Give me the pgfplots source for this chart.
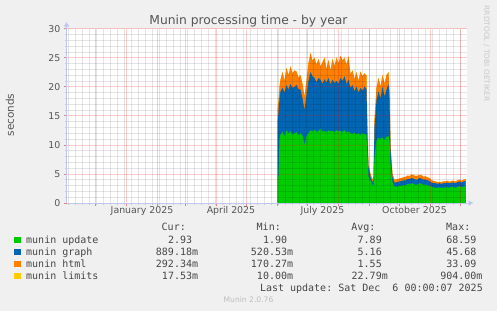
\documentclass[border=0pt]{standalone}
\usepackage{pgfplots}
\pgfplotsset{compat=1.18}
\usepackage{pgfplotstable}
\usepackage{fontspec}
\setmainfont{DejaVu Sans}
\setmonofont{DejaVu Sans Mono}
\usetikzlibrary{arrows.meta}
\definecolor{bg}{HTML}{F0F0F0}
\definecolor{cupd}{HTML}{00CC00}
\definecolor{cgra}{HTML}{0066B3}
\definecolor{chtm}{HTML}{FF8000}
\definecolor{clim}{HTML}{FFCC00}
\definecolor{mtick}{RGB}{225,130,130}
\definecolor{stick}{RGB}{200,200,200}
\definecolor{axc}{RGB}{190,200,240}
\definecolor{txt}{RGB}{85,85,85}
\definecolor{legt}{RGB}{70,70,70}

\pgfplotstableread{
day u Tg Th l
151 4.3 14.0 16.0 0.02
152 4.6 15.5 17.5 0.02
153 11.0 18.0 20.0 0.02
154 11.8 19.2 21.2 0.02
156 12.2 19.8 22.5 0.02
158 11.5 19.0 21.0 0.02
160 12.5 20.3 23.2 0.02
162 12.0 19.5 22.0 0.02
164 12.3 20.5 23.5 0.02
166 11.8 19.8 22.3 0.02
168 12.0 20.0 22.8 0.02
170 12.2 20.3 22.6 0.02
172 11.7 19.6 21.6 0.02
174 12.0 19.5 22.0 0.02
176 11.6 18.0 20.5 0.02
178 10.0 16.0 18.3 0.02
180 11.5 18.5 21.0 0.02
182 12.0 21.0 24.0 0.02
184 12.5 22.5 25.8 0.02
186 12.3 21.8 24.5 0.02
188 12.6 21.5 25.0 0.02
190 12.2 20.8 23.8 0.02
192 12.4 21.5 24.8 0.02
194 12.7 21.2 23.5 0.02
196 12.3 20.5 24.2 0.02
198 12.4 21.3 25.0 0.02
200 12.2 20.7 23.0 0.02
202 12.5 21.5 24.6 0.02
204 12.3 20.4 22.8 0.02
206 12.4 21.2 24.8 0.02
208 12.2 20.6 23.5 0.02
210 12.5 21.0 25.0 0.02
212 12.3 20.5 24.0 0.02
214 12.4 21.5 25.3 0.02
216 12.2 21.0 24.5 0.02
218 12.5 21.8 25.0 0.02
220 12.1 20.5 23.8 0.02
222 12.3 21.2 25.2 0.02
224 12.0 19.8 22.2 0.02
226 11.9 20.3 22.8 0.02
228 12.1 19.2 21.3 0.02
230 11.8 20.0 22.5 0.02
232 12.0 19.0 21.0 0.02
234 11.7 19.8 22.6 0.02
236 12.0 19.3 21.8 0.02
238 11.8 20.0 22.3 0.02
240 11.8 19.6 21.9 0.02
241 8.0 11.0 12.0 0.02
242 4.5 6.2 6.5 0.02
244 3.8 4.5 5.0 0.02
246 3.0 3.6 4.0 0.02
247 3.2 4.0 4.6 0.02
248 8.0 13.0 14.5 0.02
250 10.8 17.6 19.8 0.02
252 11.2 19.2 21.5 0.02
254 11.0 18.0 20.0 0.02
256 11.3 20.0 22.0 0.02
258 10.8 18.3 20.5 0.02
260 11.4 19.5 22.0 0.02
262 11.5 20.5 22.5 0.02
263 11.0 18.0 19.5 0.02
264 7.0 9.0 10.0 0.02
266 3.5 4.5 5.0 0.02
268 2.8 3.5 4.0 0.02
271 2.8 3.6 4.1 0.02
273 3.0 3.7 4.2 0.02
275 2.9 3.8 4.3 0.02
277 3.1 3.9 4.4 0.02
279 3.0 3.9 4.5 0.02
281 3.3 4.1 4.7 0.02
283 3.2 4.1 4.6 0.02
285 3.4 4.3 4.9 0.02
287 3.3 4.2 4.8 0.02
289 3.1 4.0 4.6 0.02
291 3.2 4.0 4.7 0.02
293 3.4 4.3 4.8 0.02
295 3.3 4.2 4.8 0.02
297 3.1 4.0 4.5 0.02
299 3.2 4.0 4.6 0.02
301 3.0 3.9 4.4 0.02
303 3.0 3.8 4.3 0.02
305 2.8 3.5 3.9 0.02
307 2.7 3.4 3.8 0.02
309 2.6 3.4 3.7 0.02
311 2.6 3.3 3.6 0.02
313 2.7 3.4 3.6 0.02
315 2.6 3.3 3.6 0.02
317 2.6 3.4 3.7 0.02
319 2.7 3.4 3.7 0.02
321 2.7 3.5 3.8 0.02
323 2.6 3.4 3.6 0.02
325 2.8 3.5 3.8 0.02
327 2.7 3.5 3.8 0.02
329 2.6 3.4 3.7 0.02
331 2.8 3.6 3.9 0.02
333 2.9 3.7 4.0 0.02
335 2.7 3.5 3.8 0.02
337 2.8 3.7 4.0 0.02
339 2.9 3.8 4.1 0.02
}\datatab

\begin{document}
\begin{tikzpicture}
\path[use as bounding box, fill=bg] (0,0) rectangle (497bp,311bp);
\begin{axis}[
  at={(66.5bp,108bp)}, anchor=south west,
  scale only axis, width=400bp, height=174.4bp,
  xmin=-60, xmax=340, ymin=0, ymax=30,
  axis background/.style={fill=white},
  axis on top,
  axis x line*=bottom, axis y line*=left,
  x axis line style={draw=axc, line width=0.8bp, -{Latex[length=5bp,width=6bp]}, shorten >=-7bp},
  y axis line style={draw=axc, line width=0.8bp, -{Latex[length=5bp,width=6bp]}, shorten >=-7bp},
  xtick={-31,0,31,59,90,120,151,181,212,243,273,304,334},
  xticklabels={},
  minor xtick={-58,-51,...,339},
  ytick={0,5,...,30},
  minor ytick={1,2,3,4,6,7,8,9,11,12,13,14,16,17,18,19,21,22,23,24,26,27,28,29},
  extra x ticks={15.5,104.5,196,288},
  extra x tick labels={January 2025,April 2025,July 2025,October 2025},
  extra x tick style={xmajorgrids=false, major tick length=0pt},
  xmajorgrids=true, xminorgrids=true, ymajorgrids=true, yminorgrids=true,
  major grid style={draw=red, draw opacity=0.2, line width=0.6bp, solid},
  minor grid style={draw=black, draw opacity=0.1, line width=0.5bp, solid},
  tick align=outside,
  major tick length=3bp, minor tick length=2bp,
  major tick style={draw=mtick, line width=0.7bp},
  minor tick style={draw=stick, line width=0.7bp},
  /pgf/number format/assume math mode=true,
  tick label style={font=\fontsize{9.4bp}{11bp}\selectfont, text=txt},
  xticklabel style={anchor=north, inner sep=0pt, yshift=-3bp},
  yticklabel style={anchor=east, inner sep=0pt, xshift=-3bp},
]
\addplot[fill=clim, draw=none] table[x=day, y expr=\thisrow{Th}+\thisrow{l}] {\datatab} \closedcycle;
\addplot[fill=chtm, draw=none] table[x=day, y=Th] {\datatab} \closedcycle;
\addplot[fill=cgra, draw=none] table[x=day, y=Tg] {\datatab} \closedcycle;
\addplot[fill=cupd, draw=none] table[x=day, y=u] {\datatab} \closedcycle;
\end{axis}

% titles
\node[anchor=base, text=txt, font=\fontsize{12.3bp}{14bp}\selectfont] at (248.5bp,286.5bp) {Munin processing time - by year};
\node[rotate=90, text=txt, font=\fontsize{10.5bp}{12bp}\selectfont] at (10bp,196bp) {seconds};
\node[rotate=-90, text={rgb,255:red,200;green,200;blue,200}, font=\fontsize{7.4bp}{9bp}\selectfont, inner sep=0pt] at (486.5bp,257.5bp) {RRDTOOL / TOBI OETIKER};
\node[anchor=base, text={rgb,255:red,190;green,190;blue,190}, font=\fontsize{7.6bp}{9bp}\selectfont] at (248.5bp,8.3bp) {Munin 2.0.76};

% legend
\begin{scope}[every node/.style={inner sep=0pt, text=legt, font=\ttfamily\fontsize{10bp}{12bp}\selectfont}]
\node[anchor=base east] at (186bp,80bp) {Cur:};
\node[anchor=base east] at (281bp,80bp) {Min:};
\node[anchor=base east] at (375.7bp,80bp) {Avg:};
\node[anchor=base east] at (470.5bp,80bp) {Max:};

\node[anchor=base west] at (14bp,67.7bp) {\textcolor{cupd}{\rule{6.5bp}{6.5bp}}};
\node[anchor=base west] at (14bp,55.8bp) {\textcolor{cgra}{\rule{6.5bp}{6.5bp}}};
\node[anchor=base west] at (14bp,43.9bp) {\textcolor{chtm}{\rule{6.5bp}{6.5bp}}};
\node[anchor=base west] at (14bp,32.0bp) {\textcolor{clim}{\rule{6.5bp}{6.5bp}}};

\node[anchor=base west] at (26bp,67.7bp) {munin update};
\node[anchor=base west] at (26bp,55.8bp) {munin graph};
\node[anchor=base west] at (26bp,43.9bp) {munin html};
\node[anchor=base west] at (26bp,32.0bp) {munin limits};

\node[anchor=base east] at (198.3bp,67.7bp) {2.93\phantom{m}};
\node[anchor=base east] at (198.3bp,55.8bp) {889.18m};
\node[anchor=base east] at (198.3bp,43.9bp) {292.34m};
\node[anchor=base east] at (198.3bp,32.0bp) {17.53m};

\node[anchor=base east] at (293.3bp,67.7bp) {1.90\phantom{m}};
\node[anchor=base east] at (293.3bp,55.8bp) {520.53m};
\node[anchor=base east] at (293.3bp,43.9bp) {170.27m};
\node[anchor=base east] at (293.3bp,32.0bp) {10.00m};

\node[anchor=base east] at (388bp,67.7bp) {7.89\phantom{m}};
\node[anchor=base east] at (388bp,55.8bp) {5.16\phantom{m}};
\node[anchor=base east] at (388bp,43.9bp) {1.55\phantom{m}};
\node[anchor=base east] at (388bp,32.0bp) {22.79m};

\node[anchor=base east] at (482.7bp,67.7bp) {68.59\phantom{m}};
\node[anchor=base east] at (482.7bp,55.8bp) {45.68\phantom{m}};
\node[anchor=base east] at (482.7bp,43.9bp) {33.09\phantom{m}};
\node[anchor=base east] at (482.7bp,32.0bp) {904.00m};

\node[anchor=base east] at (483bp,20bp) {Last update: Sat Dec\ \ 6 00:00:07 2025};
\end{scope}
\end{tikzpicture}
\end{document}
